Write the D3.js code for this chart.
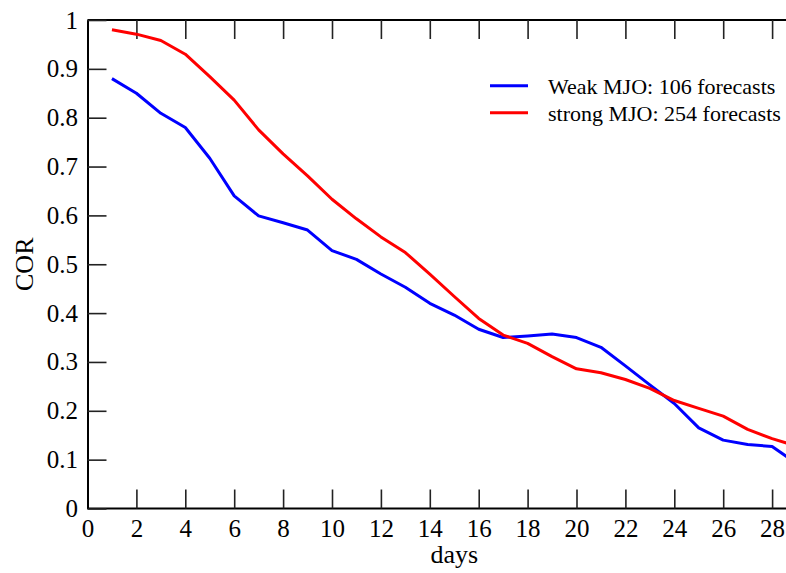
<html>
<head>
<script src="https://d3js.org/d3.v7.min.js"></script>
<style>
  body { margin: 0; background: #fff; }
  text { font-family: "Liberation Serif", "Times New Roman", serif; fill: #000; }
</style>
</head>
<body>
<div id="chart"></div>
<script>
// lead time (days)
const days = d3.range(1, 30);
// correlation, weak MJO (106 forecasts)
const weakCor = [0.880, 0.850, 0.809, 0.780, 0.717, 0.640, 0.599, 0.585, 0.570, 0.528,
                 0.510, 0.480, 0.453, 0.420, 0.396, 0.367, 0.350, 0.353, 0.357, 0.350,
                 0.330, 0.292, 0.253, 0.215, 0.165, 0.140, 0.131, 0.127, 0.092];
// correlation, strong MJO (254 forecasts)
const strongCor = [0.980, 0.971, 0.958, 0.930, 0.884, 0.836, 0.775, 0.726, 0.681, 0.633,
                   0.593, 0.556, 0.524, 0.480, 0.434, 0.389, 0.355, 0.338, 0.311, 0.286,
                   0.278, 0.264, 0.246, 0.221, 0.205, 0.189, 0.162, 0.143, 0.128];
const xTicks = d3.range(0, 29, 2);
const yTicks = [0, 0.1, 0.2, 0.3, 0.4, 0.5, 0.6, 0.7, 0.8, 0.9, 1];
const yTickLabels = ["0", "0.1", "0.2", "0.3", "0.4", "0.5", "0.6", "0.7", "0.8", "0.9", "1"];
const seriesNames = ["Weak MJO: 106 forecasts", "strong MJO: 254 forecasts"];
const seriesColors = ["#0000ff", "#ff0000"];

const width = 786, height = 573;
const margin = {top: 20, left: 87.5};
const plotW = 733.5;   // x = 30 falls just past the right edge of the picture
const plotH = 488.5;

const svg = d3.select("#chart").append("svg")
    .attr("width", width)
    .attr("height", height);

const x = d3.scaleLinear().domain([0, 30]).range([margin.left, margin.left + plotW]);
const y = d3.scaleLinear().domain([0, 1]).range([margin.top + plotH, margin.top]);

// bottom axis, ticks pointing inward
const xAxis = svg.append("g")
    .attr("transform", "translate(0," + y(0) + ")")
    .call(d3.axisBottom(x).tickValues(xTicks).tickSizeInner(-19).tickSizeOuter(0).tickPadding(11)
        .tickFormat(d3.format("d")));
// top axis
const xAxisTop = svg.append("g")
    .attr("transform", "translate(0," + y(1) + ")")
    .call(d3.axisTop(x).tickValues(xTicks).tickSizeInner(-19).tickSizeOuter(0).tickFormat(""));
// left axis
const yAxis = svg.append("g")
    .attr("transform", "translate(" + x(0) + ",0)")
    .call(d3.axisLeft(y).tickValues(yTicks).tickSizeInner(-19).tickSizeOuter(0).tickPadding(9.5)
        .tickFormat((d, i) => yTickLabels[i]));

// stretch domain lines to the picture's right edge (x = 30 is off-canvas)
xAxis.select(".domain").attr("d", "M" + x(0) + ",0H" + x(30));
xAxisTop.select(".domain").attr("d", "M" + x(0) + ",0H" + x(30));

[xAxis, xAxisTop, yAxis].forEach(g => {
    g.select(".domain").attr("stroke", "#000").attr("stroke-width", 2);
    g.selectAll(".tick line").attr("stroke", "#222").attr("stroke-width", 1.6);
    g.selectAll(".tick text").attr("font-size", 25).attr("font-family", null);
});

// series lines
const line = d3.line()
    .x((d, i) => x(days[i]))
    .y(d => y(d));

[weakCor, strongCor].forEach((vals, k) => {
    svg.append("path")
        .datum(vals)
        .attr("d", line)
        .attr("fill", "none")
        .attr("stroke", seriesColors[k])
        .attr("stroke-width", 3)
        .attr("stroke-linejoin", "round");
});

// axis titles
svg.append("text")
    .attr("x", x(15))
    .attr("y", 563)
    .attr("text-anchor", "middle")
    .attr("font-size", 26)
    .text("days");

svg.append("text")
    .attr("transform", "translate(33," + y(0.5) + ") rotate(-90)")
    .attr("text-anchor", "middle")
    .attr("font-size", 26)
    .text("COR");

// legend
const legend = svg.append("g");
seriesNames.forEach((name, k) => {
    const ly = 85.7 + k * 27;
    legend.append("line")
        .attr("x1", 490).attr("x2", 528)
        .attr("y1", ly).attr("y2", ly)
        .attr("stroke", seriesColors[k])
        .attr("stroke-width", 3);
    legend.append("text")
        .attr("x", 548)
        .attr("y", ly + 8.5)
        .attr("font-size", 22)
        .text(name);
});
</script>
</body>
</html>
